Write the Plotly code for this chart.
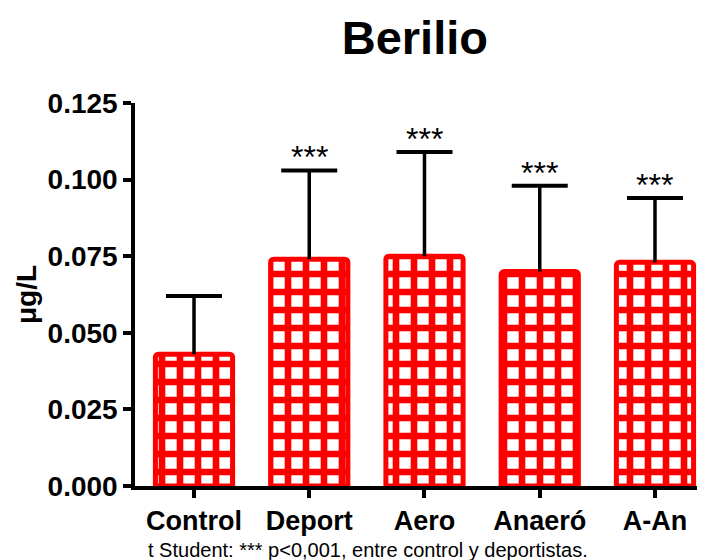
import plotly.graph_objects as go

categories = ["Control", "Deport", "Aero", "Anaeró", "A-An"]
means = [0.043, 0.074, 0.075, 0.070, 0.073]
errors_up = [0.019, 0.029, 0.034, 0.028, 0.021]
significance = ["", "***", "***", "***", "***"]
y_ticks = [0.000, 0.025, 0.050, 0.075, 0.100, 0.125]
y_tick_labels = ["0.000", "0.025", "0.050", "0.075", "0.100", "0.125"]

FONT = "Arial, Liberation Sans, sans-serif"
RED = "#FF0000"

tops = [m + e for m, e in zip(means, errors_up)]

fig = go.Figure()
fig.add_trace(go.Bar(
    x=categories,
    y=means,
    width=0.67,
    marker=dict(
        color="white",
        line=dict(color=RED, width=5),
        pattern=dict(shape="+", fgcolor=RED, bgcolor="white",
                     size=18, solidity=0.6, fillmode="replace"),
        cornerradius=3,
    ),
    error_y=dict(type="data", symmetric=False, array=errors_up,
                 arrayminus=[0] * len(means), color="black",
                 thickness=3.5, width=0),
    showlegend=False,
    hoverinfo="skip",
))

# error bar caps
fig.add_trace(go.Scatter(
    x=categories, y=tops, mode="markers",
    marker=dict(symbol="line-ew-open", size=40, color="black",
                line=dict(color="black", width=4)),
    showlegend=False, hoverinfo="skip",
))

for c, t, s in zip(categories, tops, significance):
    if s:
        fig.add_annotation(x=c, y=t, text=s, showarrow=False,
                           yanchor="bottom", yshift=-7,
                           font=dict(family=FONT, size=32, color="black"))

fig.add_annotation(xref="paper", yref="paper", x=0.019, y=-0.167,
                   xanchor="left", yanchor="middle", showarrow=False,
                   text="t Student: *** p<0,001, entre control y deportistas.",
                   font=dict(family=FONT, size=20, color="black"))

fig.update_layout(
    width=697, height=552,
    margin=dict(l=127, r=0, t=95, b=74),
    paper_bgcolor="white", plot_bgcolor="white",
    title=dict(text="Berilio", x=0.491, xref="paper", xanchor="center",
               y=1 - 29.5 / 552, yref="container", yanchor="middle",
               font=dict(family=FONT, size=47, color="black", weight="bold")),
)

fig.update_xaxes(
    range=[-0.512, 4.434],
    showline=True, linecolor="black", linewidth=4,
    ticks="outside", ticklen=8, tickwidth=3.5, tickcolor="black",
    tickfont=dict(family=FONT, size=27, color="black", weight="bold"),
    showgrid=False, zeroline=False,
)
fig.update_yaxes(
    range=[0, 0.125],
    tickvals=y_ticks, ticktext=y_tick_labels,
    showline=True, linecolor="black", linewidth=3.5,
    ticks="outside", ticklen=8, tickwidth=3.5, tickcolor="black",
    tickfont=dict(family=FONT, size=28, color="black", weight="bold"),
    title=dict(text="μg/L", standoff=4,
               font=dict(family=FONT, size=28, color="black", weight="bold")),
    showgrid=False, zeroline=False,
    automargin=False,
)

fig.write_html("out.html")
